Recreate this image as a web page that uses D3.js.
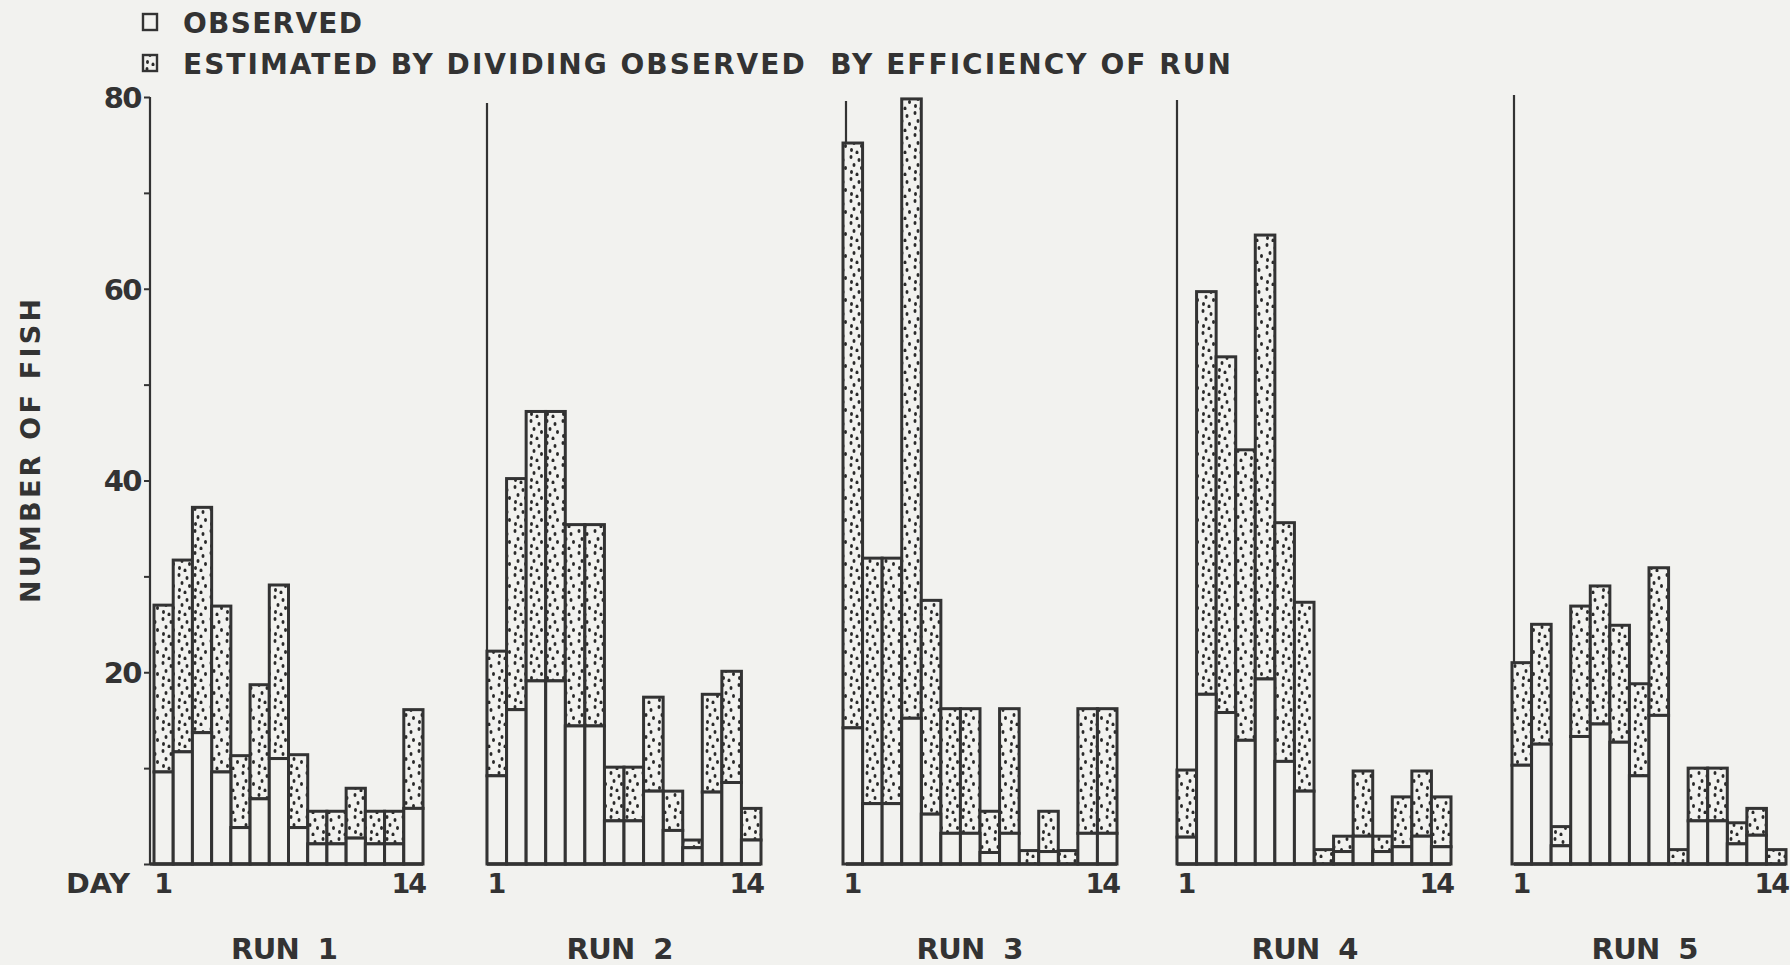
<!DOCTYPE html>
<html lang="en">
<head>
<meta charset="UTF-8">
<title>Number of fish per day, runs 1-5</title>
<script src="https://d3js.org/d3.v7.min.js"></script>
<style>
    body {
        margin: 0;
        padding: 0;
        background-color: #f2f2ef;
    }
    svg {
        display: block;
        font-family: 'DejaVu Sans', sans-serif;
        font-weight: bold;
    }
</style>
</head>
<body>
<svg id="chart" width="1790" height="965"></svg>

<script>
    // data
    const days = d3.range(1, 15);
    const runNames = ["RUN  1", "RUN  2", "RUN  3", "RUN  4", "RUN  5"];

    const observedRun1 = [9.6, 11.7, 13.7, 9.6, 3.8, 6.8, 11.0, 3.8, 2.1, 2.1, 2.7, 2.1, 2.1, 5.8];
    const estimatedRun1 = [27.0, 31.7, 37.2, 26.9, 11.3, 18.7, 29.1, 11.4, 5.5, 5.5, 7.9, 5.5, 5.5, 16.1];

    const observedRun2 = [9.2, 16.1, 19.1, 19.1, 14.4, 14.4, 4.5, 4.5, 7.6, 3.5, 1.7, 7.5, 8.5, 2.5];
    const estimatedRun2 = [22.2, 40.2, 47.2, 47.2, 35.4, 35.4, 10.1, 10.1, 17.4, 7.6, 2.5, 17.7, 20.1, 5.8];

    const observedRun3 = [14.2, 6.3, 6.3, 15.2, 5.2, 3.2, 3.2, 1.2, 3.2, 0, 1.3, 0, 3.2, 3.2];
    const estimatedRun3 = [75.2, 31.9, 31.9, 79.8, 27.5, 16.2, 16.2, 5.5, 16.2, 1.4, 5.5, 1.4, 16.2, 16.2];

    const observedRun4 = [2.8, 17.7, 15.8, 12.9, 19.3, 10.7, 7.6, 0, 1.3, 2.9, 1.3, 1.8, 2.9, 1.8];
    const estimatedRun4 = [9.8, 59.7, 52.9, 43.2, 65.6, 35.6, 27.3, 1.5, 2.9, 9.7, 2.9, 7.0, 9.7, 7.0];

    const observedRun5 = [10.3, 12.5, 1.9, 13.3, 14.6, 12.7, 9.2, 15.5, 0, 4.5, 4.5, 2.1, 3.0, 0];
    const estimatedRun5 = [21.0, 25.0, 3.9, 26.9, 29.0, 24.9, 18.8, 30.9, 1.5, 10.0, 10.0, 4.3, 5.8, 1.5];

    const yTicks = [0, 10, 20, 30, 40, 50, 60, 70, 80];
    const yLabels = [20, 40, 60, 80];

    const runs = [
        {name: runNames[0], observed: observedRun1, estimated: estimatedRun1},
        {name: runNames[1], observed: observedRun2, estimated: estimatedRun2},
        {name: runNames[2], observed: observedRun3, estimated: estimatedRun3},
        {name: runNames[3], observed: observedRun4, estimated: estimatedRun4},
        {name: runNames[4], observed: observedRun5, estimated: estimatedRun5}
    ];

    // layout
    const ink = "#333333";
    const paper = "#f2f2ef";
    const panelLeft = [154, 487, 843, 1177, 1512];
    const panelWidth = [269, 274, 274, 274, 274];
    const axisX = [150, 487, 846, 1177, 1514];
    const axisTop = [97, 103, 101, 100, 95];
    const titleShift = [-4, -4, -10, -9, -4];

    const svg = d3.select("#chart");
    svg.append("rect").attr("width", 1790).attr("height", 965).attr("fill", paper);

    // stipple fill for the estimated part
    const defs = svg.append("defs");
    const pat = defs.append("pattern")
        .attr("id", "stipple")
        .attr("patternUnits", "userSpaceOnUse")
        .attr("width", 16)
        .attr("height", 22);
    pat.append("rect").attr("width", 16).attr("height", 22).attr("fill", paper);
    const dots = [[3, 3], [11, 6], [6, 11], [13.5, 14], [3.5, 18], [9, 20.5]];
    pat.selectAll("ellipse").data(dots).enter().append("ellipse")
        .attr("cx", d => d[0]).attr("cy", d => d[1])
        .attr("rx", 1.5).attr("ry", 1.9)
        .attr("fill", "#2a2a2a");

    const y = d3.scaleLinear().domain([0, 80]).range([864, 97]);

    runs.forEach((run, i) => {
        const g = svg.append("g");
        const x = d3.scaleBand()
            .domain(days)
            .range([panelLeft[i], panelLeft[i] + panelWidth[i]])
            .padding(0);

        // panel axis line
        g.append("line")
            .attr("x1", axisX[i]).attr("x2", axisX[i])
            .attr("y1", axisTop[i]).attr("y2", y(0))
            .attr("stroke", ink).attr("stroke-width", 2.2);

        // estimated (stippled) part
        g.selectAll(".est")
            .data(days)
            .enter().append("rect")
            .attr("class", "est")
            .attr("x", d => x(d))
            .attr("width", x.bandwidth())
            .attr("y", (d, j) => y(run.estimated[j]))
            .attr("height", (d, j) => y(run.observed[j]) - y(run.estimated[j]))
            .attr("fill", "url(#stipple)")
            .attr("stroke", ink)
            .attr("stroke-width", 3);

        // observed (open) part
        g.selectAll(".obs")
            .data(days)
            .enter().append("rect")
            .attr("class", "obs")
            .attr("x", d => x(d))
            .attr("width", x.bandwidth())
            .attr("y", (d, j) => y(run.observed[j]))
            .attr("height", (d, j) => y(0) - y(run.observed[j]))
            .attr("fill", paper)
            .attr("stroke", ink)
            .attr("stroke-width", 3);

        // baseline
        g.append("line")
            .attr("x1", axisX[i]).attr("x2", panelLeft[i] + panelWidth[i])
            .attr("y1", y(0)).attr("y2", y(0))
            .attr("stroke", ink).attr("stroke-width", 3.5);

        // day labels 1 and 14
        g.append("text")
            .attr("x", x(days[0]) + x.bandwidth() / 2)
            .attr("y", 893)
            .attr("text-anchor", "middle")
            .attr("font-size", 27)
            .attr("fill", ink)
            .text(days[0]);
        g.append("text")
            .attr("x", x(days[days.length - 1]) + x.bandwidth() + 2)
            .attr("y", 893)
            .attr("text-anchor", "end")
            .attr("font-size", 27)
            .attr("fill", ink)
            .attr("letter-spacing", -2)
            .text(days[days.length - 1]);

        // run title
        g.append("text")
            .attr("x", panelLeft[i] + panelWidth[i] / 2 + titleShift[i])
            .attr("y", 959)
            .attr("text-anchor", "middle")
            .attr("font-size", 29)
            .attr("fill", ink)
            .attr("textLength", 107)
            .attr("lengthAdjust", "spacing")
            .style("white-space", "pre")
            .text(run.name);
    });

    // y axis on the first panel
    const yAxis = d3.axisLeft(y)
        .tickValues(yTicks)
        .tickSize(6)
        .tickPadding(3)
        .tickFormat(d => yLabels.includes(d) ? d : "");
    const ax = svg.append("g")
        .attr("transform", `translate(${axisX[0]},0)`)
        .call(yAxis);
    ax.select(".domain").remove();
    ax.selectAll(".tick line").attr("stroke", ink).attr("stroke-width", 2);
    ax.selectAll(".tick text")
        .attr("fill", ink)
        .attr("font-size", 29)
        .attr("font-family", "'DejaVu Sans', sans-serif")
        .attr("font-weight", "bold")
        .attr("letter-spacing", -1.5)
        .attr("dy", "0.36em");

    svg.append("text")
        .attr("x", 66).attr("y", 893)
        .attr("font-size", 27)
        .attr("fill", ink)
        .attr("textLength", 64)
        .attr("lengthAdjust", "spacingAndGlyphs")
        .text("DAY");

    svg.append("text")
        .attr("transform", "translate(40,451) rotate(-90)")
        .attr("text-anchor", "middle")
        .attr("font-size", 27)
        .attr("fill", ink)
        .attr("textLength", 304)
        .attr("lengthAdjust", "spacing")
        .text("NUMBER OF FISH");

    // legend
    const legend = svg.append("g");
    legend.append("rect")
        .attr("x", 143).attr("y", 14).attr("width", 14).attr("height", 16)
        .attr("fill", paper).attr("stroke", ink).attr("stroke-width", 2.4);
    legend.append("rect")
        .attr("x", 143).attr("y", 55).attr("width", 14).attr("height", 16)
        .attr("fill", "url(#stipple)").attr("stroke", ink).attr("stroke-width", 2.4);
    legend.append("text")
        .attr("x", 183).attr("y", 33)
        .attr("font-size", 28)
        .attr("fill", ink)
        .attr("textLength", 179)
        .attr("lengthAdjust", "spacing")
        .text("OBSERVED");
    legend.append("text")
        .attr("x", 183).attr("y", 74)
        .attr("font-size", 28)
        .attr("fill", ink)
        .attr("textLength", 1048)
        .attr("lengthAdjust", "spacing")
        .style("white-space", "pre")
        .text("ESTIMATED BY DIVIDING OBSERVED  BY EFFICIENCY OF RUN");
</script>
</body>
</html>
